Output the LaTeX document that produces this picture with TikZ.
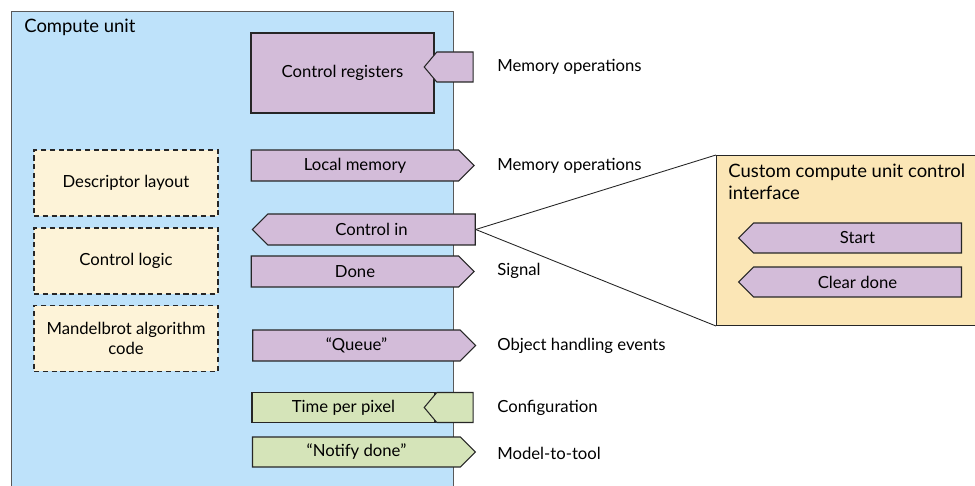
\documentclass[tikz,border=0pt]{standalone}
\usepackage{fontspec}
\setmainfont{Lato}
\usepackage{tikz}
\usetikzlibrary{positioning, shapes.symbols}
\usepackage{xcolor}
\definecolor{cublue}{RGB}{190,226,250}
\definecolor{regpurple}{RGB}{211,188,217}
\definecolor{cfggreen}{RGB}{213,228,185}
\definecolor{logiccream}{RGB}{253,243,216}
\definecolor{ifcorange}{RGB}{251,230,182}

\begin{document}
\begin{tikzpicture}[x=0.02cm, y=-0.02cm, font=\fontsize{9.5}{11.5}\selectfont,
    edge/.style={draw=black!85, line width=0.6pt},
    sig/.style={edge, signal, signal pointer angle=90, inner sep=0pt,
                minimum width=4.46cm, minimum height=0.62cm},
    sigin/.style={sig, signal to=west},
    port/.style={edge, signal, signal to=west, signal pointer angle=100,
                 inner sep=0pt, minimum width=0.98cm, minimum height=0.6cm},
    plain/.style={edge, inner sep=0pt, minimum width=3.66cm},
    logic/.style={draw=black!85, dash pattern=on 3pt off 2pt, line width=0.6pt,
                  fill=logiccream, minimum width=3.68cm, minimum height=1.32cm,
                  align=center},
    lbl/.style={anchor=west, inner sep=0pt}]
    \useasboundingbox (0,0) rectangle (975,486);

    % compute unit
    \node[draw=black!65, line width=0.6pt, fill=cublue, anchor=north west,
          minimum width=8.84cm, minimum height=10cm] (cu) at (11,11) {};
    \node[anchor=north west, inner sep=0pt, font=\fontsize{10.5}{12.5}\selectfont]
          (cutitle) at (24,19) {Compute unit};

    % internal blocks
    \node[logic] (desc)  at (126,183)   {Descriptor layout};
    \node[logic] (ctrl)  at (126,261)   {Control logic};
    \node[logic] (mandel) at (126,338.5) {Mandelbrot algorithm\\code};

    % interfaces
    \node[plain, fill=regpurple, minimum height=1.6cm] (regs) at (342.5,73) {Control registers};
    \node[port, fill=regpurple]  (regport) at (455,67)  {};
    \node[sig, fill=regpurple]   (locmem)  at (355,165.5) {Local memory};
    \node[sigin, fill=regpurple] (ctrlin)  at (371.5,229.5) {Control in};
    \node[sig, fill=regpurple]   (done)    at (355,271.5) {Done};
    \node[sig, fill=regpurple]   (queue)   at (356.5,345.5) {``Queue''};
    \node[plain, fill=cfggreen, minimum height=0.6cm] (tpp) at (343.5,407.5) {Time per pixel};
    \node[port, fill=cfggreen]   (tppport) at (455,407.5) {};
    \node[sig, fill=cfggreen, minimum height=0.6cm] (notify) at (356.5,452) {``Notify done''};

    % categories
    \node[lbl] (lregs)   at (497,67)  {Memory operations};
    \node[lbl] (lmem)    at (497,166) {Memory operations};
    \node[lbl] (ldone)   at (497,271) {Signal};
    \node[lbl] (lqueue)  at (497,346) {Object handling events};
    \node[lbl] (ltpp)    at (497,408) {Configuration};
    \node[lbl] (lnotify) at (497,453) {Model-to-tool};

    % control interface detail
    \node[edge, fill=ifcorange, anchor=north west, minimum width=5.5cm,
          minimum height=3.4cm] (panel) at (716,155) {};
    \node[anchor=north west, inner sep=0pt, align=left, font=\fontsize{10.5}{12.5}\selectfont]
          (ptitle) at (728,164) {Custom compute unit control\\interface};
    \node[sigin, fill=regpurple, minimum height=0.6cm] (start) at (857.5,238) {Start};
    \node[sigin, fill=regpurple, minimum height=0.6cm] (clear) at (857.5,282) {Clear done};

    \draw[black!85, line width=0.5pt] (ctrlin.east) -- (panel.north west);
    \draw[black!85, line width=0.5pt] (ctrlin.east) -- (panel.south west);
\end{tikzpicture}
\end{document}
